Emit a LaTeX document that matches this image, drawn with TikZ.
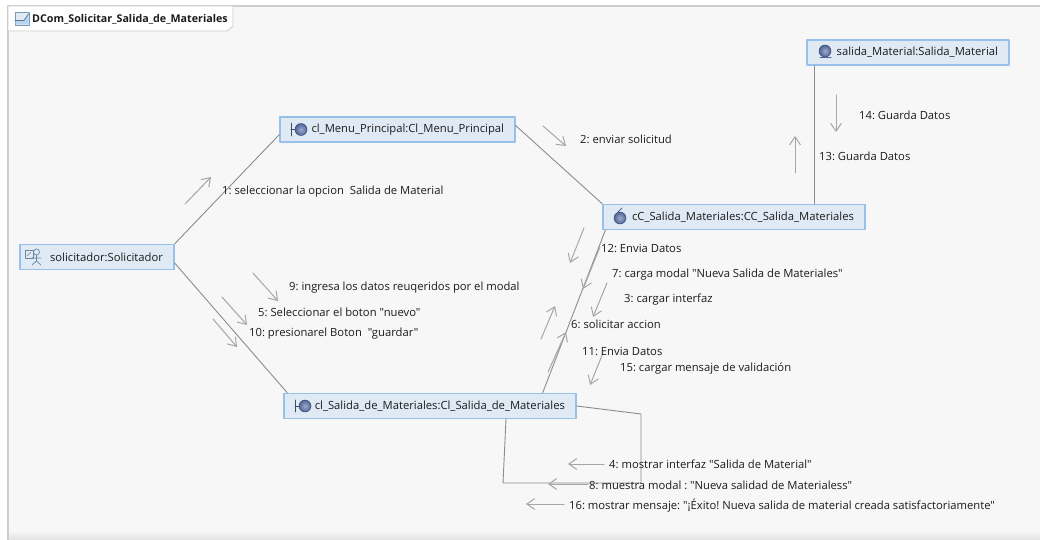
\documentclass[tikz,border=0pt]{standalone}
\usepackage{fontspec}
\setmainfont{Open Sans}[Ligatures=TeXOff]
\frenchspacing
\usetikzlibrary{arrows.meta}
\definecolor{panelgray}{HTML}{F7F7F7}
\definecolor{framegray}{HTML}{CDCDCD}
\definecolor{boxfill}{HTML}{E0EAF5}
\definecolor{boxline}{HTML}{97C0EA}
\definecolor{linkgray}{HTML}{8C8C8C}
\definecolor{msggray}{HTML}{A6A6A6}
\definecolor{ballblue}{HTML}{4F659B}
\definecolor{textdark}{HTML}{1C1C1C}
\tikzset{
	objbox/.style={draw=boxline,fill=boxfill,line width=1.2pt,minimum height=25pt,inner xsep=11pt,inner ysep=0pt,align=right,font=\fontsize{11.25}{13}\selectfont,text=textdark},
	linkline/.style={draw=linkgray,line width=0.9pt},
	msgarrow/.style={draw=msggray,line width=1pt,-{Straight Barb[length=8pt,width=11pt,line width=1pt]}},
	msglabel/.style={anchor=west,inner sep=0pt,font=\fontsize{11.25}{13}\selectfont,text=textdark},
	ball/.style={draw=ballblue!70!black,line width=0.5pt,inner color=ballblue!55,outer color=ballblue}
}
\begin{document}
\begin{tikzpicture}[line cap=round,line join=round,x=1pt,y=-1pt]
	\useasboundingbox (0,0) rectangle (1040,540);
	%%%%%%%%%%%%%%% F R A M E %%%%%%%%%%%%%%%%
	\fill [white] (0,0) rectangle (1040,540);
	\fill [panelgray] (8,6) rectangle (1040,530);
	\shade [top color=panelgray,bottom color=panelgray!92!black] (8,530) rectangle (1040,540);
	\draw [framegray,line width=1.5pt] (8,540) -- (8,6) -- (1040,6);
	\draw [framegray,fill=white,line width=0.8pt] (8,6) -- (233,6) -- (233,26) -- (227,31) -- (8,31) -- cycle;
	\node (title) [msglabel,font=\fontsize{10.7}{13}\selectfont\bfseries] at (32,19) {DCom\_Solicitar\_Salida\_de\_Materiales};
	%title icon
	\draw [boxline!80!black,fill=boxfill,line width=0.8pt] (15,12) rectangle (29,25);
	\fill [boxline!70] (15.5,20.5) -- (24,20.5) -- (28.5,14) -- (28.5,24.5) -- (15.5,24.5) -- cycle;
	\draw [boxline!60!black,line width=0.7pt] (15,20.5) -- (24,20.5) -- (28.5,14);
	%%%%%%%%%%%%%%% O B J E C T S %%%%%%%%%%%%%%%%
	\node (solicitador) [objbox,text width=132pt] at (97,257) {solicitador:Solicitador};
	\node (menu) [objbox,text width=213pt] at (397.5,129.5) {cl\_Menu\_Principal:Cl\_Menu\_Principal};
	\node (control) [objbox,text width=240pt] at (734,217) {cC\_Salida\_Materiales:CC\_Salida\_Materiales};
	\node (salida) [objbox,text width=270pt] at (430,406) {cl\_Salida\_de\_Materiales:Cl\_Salida\_de\_Materiales};
	\node (material) [objbox,text width=180pt] at (908,52.5) {salida\_Material:Salida\_Material};
	%%%%%%%%%%%%%%% L I N K S %%%%%%%%%%%%%%%%
	\draw [linkline] (solicitador.north east) -- ([yshift=-5pt]menu.west);
	\draw [linkline] ([yshift=-6pt]solicitador.east) -- ([xshift=4pt]salida.north west);
	\draw [linkline] ([yshift=4pt]menu.east) -- (control.north west);
	\draw [linkline] ([xshift=3pt]control.south west) -- ([xshift=-34pt]salida.north east);
	\draw [linkline] ([xshift=8pt]material.south west) -- ([xshift=8pt]material.south west |- control.north);
	%self link
	\coordinate (loopa) at (641,414);
	\coordinate (loopb) at (641,483);
	\coordinate (loopc) at (503,483);
	\draw [linkline] (salida.east) -- (loopa) -- (loopb) -- (loopc) -- (salida.south -| 506,0);
	%%%%%%%%%%%%%%% M E S S A G E S %%%%%%%%%%%%%%%%
	%arrows
	\coordinate (s1) at (185,204); \coordinate (t1) at (211,177);
	\draw [msgarrow] (s1) -- (t1);
	\coordinate (s2) at (543,126); \coordinate (t2) at (566,146);
	\draw [msgarrow] (s2) -- (t2);
	\coordinate (s3) at (584,228); \coordinate (t3) at (570,263);
	\draw [msgarrow] (s3) -- (t3);
	\coordinate (s4) at (604,464); \coordinate (t4) at (568,464);
	\draw [msgarrow] (s4) -- (t4);
	\coordinate (s5) at (222,297); \coordinate (t5) at (247,325);
	\draw [msgarrow] (s5) -- (t5);
	\coordinate (s6) at (548,372); \coordinate (t6) at (566,332);
	\draw [msgarrow] (s6) -- (t6);
	\coordinate (s7) at (607,283); \coordinate (t7) at (593,317);
	\draw [msgarrow] (s7) -- (t7);
	\coordinate (s8) at (588,484); \coordinate (t8) at (548,484);
	\draw [msgarrow] (s8) -- (t8);
	\coordinate (s9) at (253,273); \coordinate (t9) at (278,301);
	\draw [msgarrow] (s9) -- (t9);
	\coordinate (s10) at (213,319); \coordinate (t10) at (237,347);
	\draw [msgarrow] (s10) -- (t10);
	\coordinate (s11) at (541,339); \coordinate (t11) at (555,306);
	\draw [msgarrow] (s11) -- (t11);
	\coordinate (s12) at (600,247); \coordinate (t12) at (583,289);
	\draw [msgarrow] (s12) -- (t12);
	\coordinate (s13) at (795,173); \coordinate (t13) at (795,136);
	\draw [msgarrow] (s13) -- (t13);
	\coordinate (s14) at (836,95); \coordinate (t14) at (836,132);
	\draw [msgarrow] (s14) -- (t14);
	\coordinate (s15) at (603,353); \coordinate (t15) at (590,385);
	\draw [msgarrow] (s15) -- (t15);
	\coordinate (s16) at (564,504); \coordinate (t16) at (526,504);
	\draw [msgarrow] (s16) -- (t16);
	%tags
	\node (m1) [msglabel] at (222,192) {1: seleccionar la opcion\ \ Salida de Material};
	\node (m2) [msglabel] at (580,139) {2: enviar solicitud};
	\node (m3) [msglabel] at (624,300) {3: cargar interfaz};
	\node (m4) [msglabel] at (609,464) {4: mostrar interfaz "Salida de Material"};
	\node (m5) [msglabel] at (258,312) {5: Seleccionar el boton "nuevo"};
	\node (m6) [msglabel] at (571,324) {6: solicitar accion};
	\node (m7) [msglabel] at (612,275) {7: carga modal "Nueva Salida de Materiales"};
	\node (m8) [msglabel] at (589,485) {8: muestra modal : "Nueva salidad de Materialess"};
	\node (m9) [msglabel] at (289,288) {9: ingresa los datos reuqeridos por el modal};
	\node (m10) [msglabel] at (249,334) {10: presionarel Boton\ \ "guardar"};
	\node (m11) [msglabel] at (582,351) {11: Envia Datos};
	\node (m12) [msglabel] at (601,248) {12: Envia Datos};
	\node (m13) [msglabel] at (819,156) {13: Guarda Datos};
	\node (m14) [msglabel] at (859,115) {14: Guarda Datos};
	\node (m15) [msglabel] at (620,369) {15: cargar mensaje de validación};
	\node (m16) [msglabel] at (569,506) {16: mostrar mensaje: "¡Éxito! Nueva salida de material creada satisfactoriamente"};
	%%%%%%%%%%%%%%% I C O N S %%%%%%%%%%%%%%%%
	%actor
	\draw [boxline!70!black,line width=0.6pt] (25,250) rectangle (33,258);
	\draw [boxline!70!black,line width=0.6pt] (27,256) -- (31,252);
	\draw [boxline!70!black,line width=0.7pt] (36.5,252) circle (3pt) (36.5,255) -- (36.5,261) (32,258) -- (41,258) (32,265) -- (36.5,261) -- (41,265);
	%boundaries
	\draw [boxline!40!black,line width=0.8pt] (291,123) -- (291,136) (291,129.5) -- (295,129.5);
	\shade [ball] (301,129.5) circle (6pt);
	\draw [boxline!40!black,line width=0.8pt] (295,400) -- (295,412) (295,406) -- (299,406);
	\shade [ball] (305,406) circle (6pt);
	%control
	\shade [ball] (620,218) circle (6pt);
	\draw [ballblue,line width=0.8pt] (618,212) -- (622,208);
	%entity
	\shade [ball] (825,51) circle (6pt);
	\draw [ballblue,line width=1pt] (820,58) -- (831,58);
\end{tikzpicture}
\end{document}
